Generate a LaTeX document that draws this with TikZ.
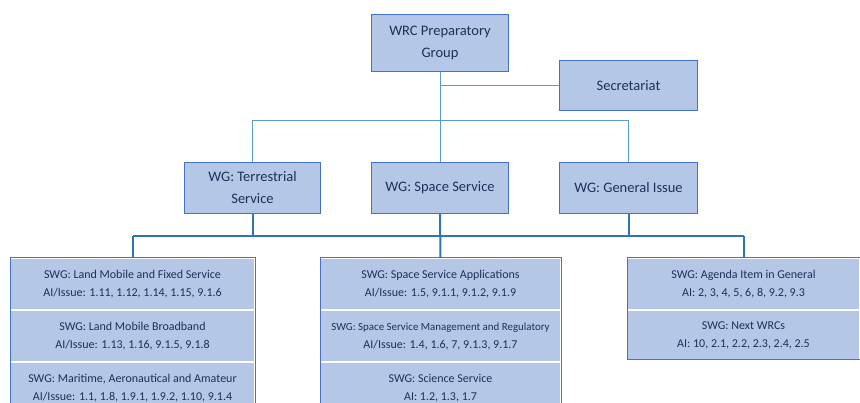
\documentclass[tikz,border=0pt]{standalone}
\usepackage{fontspec}
\setmainfont{Carlito}
\definecolor{boxfill}{HTML}{B4C7E7}
\definecolor{boxline}{HTML}{4472C4}
\definecolor{linklight}{HTML}{5B9BD5}
\definecolor{linkdark}{HTML}{2E75B6}
\definecolor{txtblue}{HTML}{1C3158}
\tikzset{
  orgbox/.style={fill=boxfill, draw=boxline, line width=1pt, text=txtblue, align=center,
    font=\fontsize{14.5}{22}\selectfont, inner sep=0pt, anchor=north west},
  swgrow/.style={fill=boxfill, draw=white, line width=1pt, text=txtblue, align=center,
    font=\fontsize{12}{18}\selectfont, inner sep=0pt, anchor=north west},
  swgframe/.style={draw=boxline, line width=1pt},
  thinlink/.style={draw=linklight, line width=1pt},
  buslink/.style={draw=linkdark, line width=2pt}
}
\begin{document}
\begin{tikzpicture}[x=1pt, y=-1pt]

  \useasboundingbox (0,0) rectangle (860,403);

  % top level
  \node[orgbox, minimum width=137pt, minimum height=57pt] (wrc) at (371,14) {WRC Preparatory\\Group};
  \node[orgbox, minimum width=138pt, minimum height=50pt] (sec) at (559,60) {Secretariat};

  % working groups
  \node[orgbox, minimum width=136pt, minimum height=51pt] (wgterr) at (184,162) {WG: Terrestrial\\Service};
  \node[orgbox, minimum width=137pt, minimum height=51pt] (wgspace) at (371,162) {WG: Space Service};
  \node[orgbox, minimum width=138pt, minimum height=51pt] (wggen) at (559,162) {WG: General Issue};

  % sub working groups, terrestrial
  \node[swgrow, minimum width=244pt, minimum height=51pt] (swgT1) at (10,258)
    {SWG: Land Mobile and Fixed Service\\AI/Issue: 1.11, 1.12, 1.14, 1.15, 9.1.6};
  \node[swgrow, minimum width=244pt, minimum height=51pt] (swgT2) at (swgT1.south west)
    {SWG: Land Mobile Broadband\\AI/Issue: 1.13, 1.16, 9.1.5, 9.1.8};
  \node[swgrow, minimum width=244pt, minimum height=51pt] (swgT3) at (swgT2.south west)
    {SWG: Maritime, Aeronautical and Amateur\\AI/Issue: 1.1, 1.8, 1.9.1, 1.9.2, 1.10, 9.1.4};
  \draw[swgframe] (swgT1.north west) rectangle (swgT3.south east);

  % sub working groups, space
  \node[swgrow, minimum width=240pt, minimum height=51pt] (swgS1) at (320,258)
    {SWG: Space Service Applications\\AI/Issue: 1.5, 9.1.1, 9.1.2, 9.1.9};
  \node[swgrow, minimum width=240pt, minimum height=51pt] (swgS2) at (swgS1.south west)
    {{\fontsize{10.9}{18}\selectfont SWG: Space Service Management and Regulatory}\\AI/Issue: 1.4, 1.6, 7, 9.1.3, 9.1.7};
  \node[swgrow, minimum width=240pt, minimum height=51pt] (swgS3) at (swgS2.south west)
    {SWG: Science Service\\AI: 1.2, 1.3, 1.7};
  \draw[swgframe] (swgS1.north west) rectangle (swgS3.south east);

  % sub working groups, general
  \node[swgrow, minimum width=232pt, minimum height=51pt] (swgG1) at (627,258)
    {SWG: Agenda Item in General\\AI: 2, 3, 4, 5, 6, 8, 9.2, 9.3};
  \node[swgrow, minimum width=232pt, minimum height=49pt] (swgG2) at (swgG1.south west)
    {SWG: Next WRCs\\AI: 10, 2.1, 2.2, 2.3, 2.4, 2.5};
  \draw[swgframe] (swgG1.north west) rectangle (swgG2.south east);

  % connectors
  \coordinate (wgbar) at (0,121);
  \coordinate (bus) at (0,236);
  \draw[thinlink] (wrc.south) -- (wgspace.north);
  \draw[thinlink] (wrc.south |- sec.west) -- (sec.west);
  \draw[thinlink] (wgterr.north) -- (wgterr.north |- wgbar) -- (wggen.north |- wgbar) -- (wggen.north);

  \draw[buslink] (wgterr.south) -- (wgterr.south |- bus);
  \draw[buslink] (wggen.south) -- (wggen.south |- bus);
  \draw[buslink] (wgspace.south) -- (swgS1.north);
  \draw[buslink] (swgT1.north |- bus) -- (swgG1.north |- bus);
  \draw[buslink] (swgT1.north |- bus) -- (swgT1.north);
  \draw[buslink] (swgG1.north |- bus) -- (swgG1.north);

\end{tikzpicture}
\end{document}
